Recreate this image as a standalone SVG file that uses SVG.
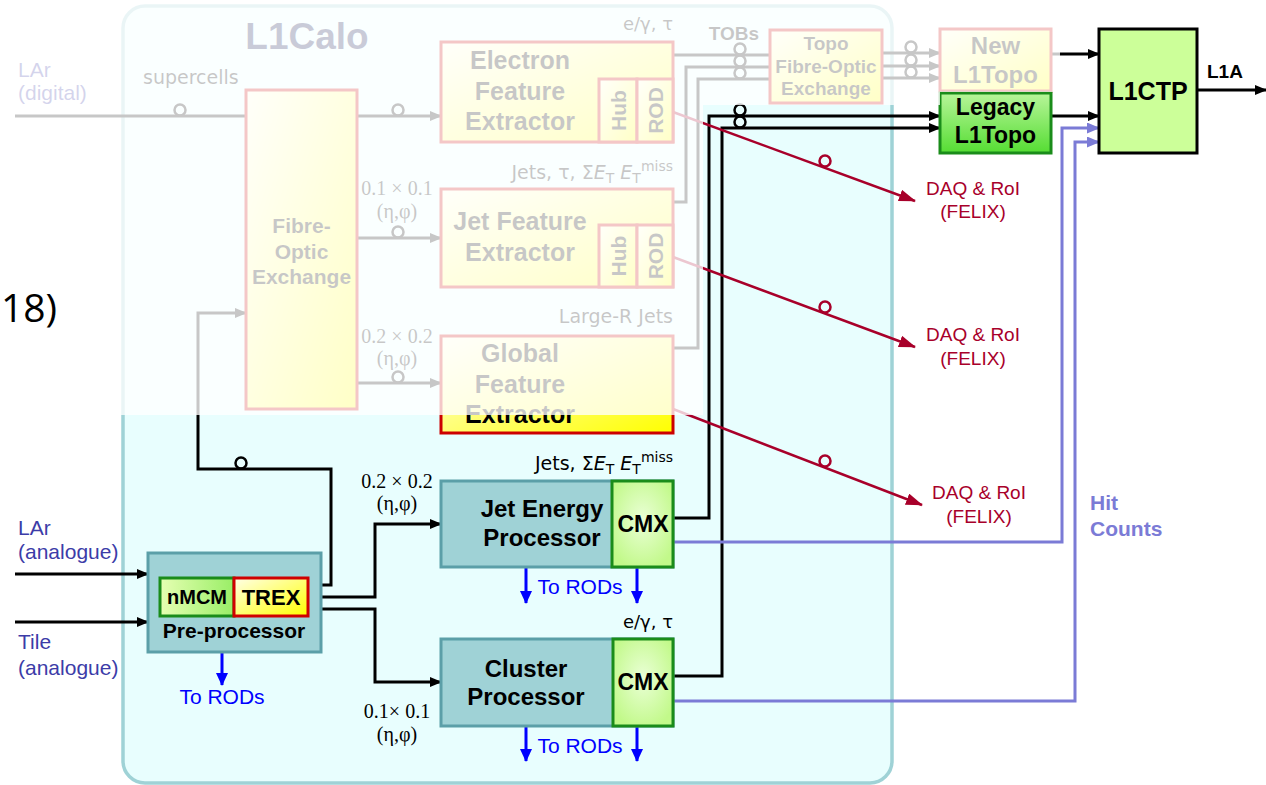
<svg xmlns="http://www.w3.org/2000/svg" width="1266" height="785" viewBox="0 0 1266 785">
<defs>
<style>
.bt{font-family:"Liberation Sans",Arial,sans-serif;font-weight:bold;text-anchor:middle;fill:#000}
.rt{font-family:"Liberation Sans",Arial,sans-serif}
.lbl{font-family:"DejaVu Sans",sans-serif;font-size:19px;fill:#000}
.mth{font-family:"Liberation Serif","Times New Roman",serif;font-size:20px;fill:#000;text-anchor:middle}
.ln{fill:none;stroke:#000;stroke-width:3}
.red{fill:none;stroke:#a8002a;stroke-width:2.5}
.lav{fill:none;stroke:#7b7bd6;stroke-width:3}
.blu{fill:none;stroke:#0000ff;stroke-width:3}
.ck{fill:none;stroke:#000;stroke-width:2.5}
.cr{fill:none;stroke:#a8002a;stroke-width:2.5}
.yel{fill:url(#gYel);stroke:#cc0000;stroke-width:3}
.teal{fill:#9fd2d6;stroke:#5b9fa8;stroke-width:3}
.cmx{fill:url(#gCmx);stroke:#1a8c1a;stroke-width:3}
.daq{font-family:"Liberation Sans",Arial,sans-serif;font-size:19px;fill:#a8002a;text-anchor:middle}
.rod{font-family:"Liberation Sans",Arial,sans-serif;font-size:21px;fill:#0000ff;text-anchor:middle}
.inp{font-family:"Liberation Sans",Arial,sans-serif;font-size:21px;fill:#3c3ca8}
</style>
<linearGradient id="gYel" x1="0" y1="0" x2="1" y2="1"><stop offset="0" stop-color="#ffffe8"/><stop offset="1" stop-color="#ffff00"/></linearGradient>
<radialGradient id="gCmx" cx="0.5" cy="0.45" r="0.6"><stop offset="0" stop-color="#eaffd6"/><stop offset="1" stop-color="#c2f98a"/></radialGradient>
<linearGradient id="gLeg" x1="0" y1="0" x2="0" y2="1"><stop offset="0" stop-color="#b8f59a"/><stop offset="1" stop-color="#55dd33"/></linearGradient>
<linearGradient id="gMcm" x1="0" y1="0" x2="1" y2="0"><stop offset="0" stop-color="#e6ffb3"/><stop offset="1" stop-color="#99ee66"/></linearGradient>
<marker id="ak" markerUnits="userSpaceOnUse" markerWidth="12" markerHeight="10" refX="11" refY="5" orient="auto"><path d="M0,0 L12,5 L0,10 z" fill="#000"/></marker>
<marker id="ar" markerUnits="userSpaceOnUse" markerWidth="17" markerHeight="12" refX="16" refY="6" orient="auto"><path d="M0,0 L17,6 L0,12 z" fill="#a8002a"/></marker>
<marker id="ab" markerUnits="userSpaceOnUse" markerWidth="13" markerHeight="12" refX="12" refY="6" orient="auto"><path d="M0,0 L13,6 L0,12 z" fill="#0000ff"/></marker>
<marker id="al" markerUnits="userSpaceOnUse" markerWidth="13" markerHeight="11" refX="12" refY="5.5" orient="auto"><path d="M0,0 L13,5.5 L0,11 z" fill="#7b7bd6"/></marker>
</defs>
<rect width="1266" height="785" fill="#fff"/>

<g id="L1Calo">
<rect x="123" y="6" width="769" height="777" rx="22" fill="#e8fefe" stroke="#9fd2d6" stroke-width="3.5"/>
<text class="bt" x="307" y="49" font-size="37" style="fill:#0a1450">L1Calo</text>
</g>

<g id="connectors">
<path class="ln" d="M15,116 H246"/><circle class="ck" cx="180" cy="110" r="5.5"/>
<path class="ln" d="M357,116 H441" marker-end="url(#ak)"/><circle class="ck" cx="398" cy="110" r="5.5"/>
<path class="ln" d="M357,238 H441" marker-end="url(#ak)"/><circle class="ck" cx="398" cy="232" r="5.5"/>
<path class="ln" d="M357,383 H441" marker-end="url(#ak)"/><circle class="ck" cx="398" cy="377" r="5.5"/>
<path class="ln" d="M673,55 H770"/>
<path class="ln" d="M673,202 H686 V67 H770"/>
<path class="ln" d="M673,348 H698 V79 H770"/>
<circle class="ck" cx="740" cy="49" r="5.5"/><circle class="ck" cx="740" cy="61" r="5.5"/><circle class="ck" cx="740" cy="73" r="5.5"/>
<path class="ln" d="M882,53 H940" marker-end="url(#ak)"/>
<path class="ln" d="M882,66 H940" marker-end="url(#ak)"/>
<path class="ln" d="M882,78 H940" marker-end="url(#ak)"/>
<circle class="ck" cx="911" cy="47" r="5.5"/><circle class="ck" cx="911" cy="60" r="5.5"/><circle class="ck" cx="911" cy="72" r="5.5"/>
<path class="ln" d="M1051,54 H1099" marker-end="url(#ak)"/>
<path class="ln" d="M1051,116 H1099" marker-end="url(#ak)"/>
<path class="ln" d="M1197,90 H1266" marker-end="url(#ak)"/>
<path class="ln" d="M673,518 H709 V116 H940" marker-end="url(#ak)"/>
<path class="ln" d="M673,676 H722 V128 H940" marker-end="url(#ak)"/>
<circle class="ck" cx="740" cy="110" r="5.5"/><circle class="ck" cx="740" cy="122" r="5.5"/>
<path class="lav" d="M673,542 H1062 V128 H1099" marker-end="url(#al)"/>
<path class="lav" d="M673,701 H1075 V142 H1099" marker-end="url(#al)"/>
<path class="red" d="M673,112 L915,201" marker-end="url(#ar)"/><circle class="cr" cx="825" cy="161" r="5.5"/>
<path class="red" d="M673,257 L915,347" marker-end="url(#ar)"/><circle class="cr" cx="825" cy="307" r="5.5"/>
<path class="red" d="M673,409 L922,505" marker-end="url(#ar)"/><circle class="cr" cx="825" cy="461" r="5.5"/>
<path class="ln" d="M15,574 H148" marker-end="url(#ak)"/>
<path class="ln" d="M15,622 H148" marker-end="url(#ak)"/>
<path class="ln" d="M308,585 H331 V469 H198 V313 H246" marker-end="url(#ak)"/><circle class="ck" cx="241" cy="463" r="5.5"/>
<path class="ln" d="M308,597 H375 V524 H441" marker-end="url(#ak)"/>
<path class="ln" d="M308,609 H375 V682 H441" marker-end="url(#ak)"/>
<path class="blu" d="M222,648 V685" marker-end="url(#ab)"/>
<path class="blu" d="M526,567 V603" marker-end="url(#ab)"/>
<path class="blu" d="M637,567 V603" marker-end="url(#ab)"/>
<path class="blu" d="M526,726 V761" marker-end="url(#ab)"/>
<path class="blu" d="M637,726 V761" marker-end="url(#ab)"/>
</g>

<g id="fibre-optic-exchange">
<rect class="yel" x="246" y="90" width="111" height="319"/>
<text class="bt" x="301.5" y="233" font-size="21">Fibre-</text>
<text class="bt" x="301.5" y="259" font-size="21">Optic</text>
<text class="bt" x="301.5" y="284" font-size="21">Exchange</text>
</g>

<g id="electron-feature-extractor">
<rect class="yel" x="441" y="42" width="232" height="100"/>
<rect class="yel" x="599" y="79" width="38" height="63"/>
<rect class="yel" x="637" y="79" width="36" height="63"/>
<text class="bt" x="520" y="69" font-size="25">Electron</text>
<text class="bt" x="520" y="100" font-size="25">Feature</text>
<text class="bt" x="520" y="130" font-size="25">Extractor</text>
<text class="bt" font-size="21" transform="translate(626,110.5) rotate(-90)">Hub</text>
<text class="bt" font-size="21" transform="translate(662.5,110.5) rotate(-90)">ROD</text>
</g>

<g id="jet-feature-extractor">
<rect class="yel" x="441" y="189" width="232" height="98"/>
<rect class="yel" x="599" y="225" width="38" height="62"/>
<rect class="yel" x="637" y="225" width="36" height="62"/>
<text class="bt" x="520" y="230" font-size="25">Jet Feature</text>
<text class="bt" x="520" y="261" font-size="25">Extractor</text>
<text class="bt" font-size="21" transform="translate(626,256) rotate(-90)">Hub</text>
<text class="bt" font-size="21" transform="translate(662.5,256) rotate(-90)">ROD</text>
</g>

<g id="global-feature-extractor">
<rect class="yel" x="441" y="336" width="232" height="97"/>
<text class="bt" x="520" y="362" font-size="25">Global</text>
<text class="bt" x="520" y="393" font-size="25">Feature</text>
<text class="bt" x="520" y="423" font-size="25">Extractor</text>
</g>

<g id="topo-fibre-optic-exchange">
<rect class="yel" x="770" y="30" width="112" height="73"/>
<text class="bt" x="826" y="50" font-size="19">Topo</text>
<text class="bt" x="826" y="73" font-size="19">Fibre-Optic</text>
<text class="bt" x="826" y="95" font-size="19">Exchange</text>
</g>

<g id="new-l1topo">
<rect class="yel" x="940" y="29" width="111" height="62"/>
<text class="bt" x="995.5" y="54" font-size="24">New</text>
<text class="bt" x="995.5" y="83" font-size="24">L1Topo</text>
</g>

<g id="legacy-l1topo">
<rect x="940" y="93" width="111" height="60" fill="url(#gLeg)" stroke="#1a8c1a" stroke-width="3"/>
<text class="bt" x="995.5" y="115" font-size="23">Legacy</text>
<text class="bt" x="995.5" y="143" font-size="23">L1Topo</text>
</g>

<g id="l1ctp">
<rect x="1099" y="29" width="98" height="124" fill="#ccff99" stroke="#000" stroke-width="3"/>
<text class="bt" x="1148" y="100" font-size="25">L1CTP</text>
</g>

<g id="pre-processor">
<rect class="teal" x="148" y="553" width="173" height="99"/>
<rect x="160" y="578" width="74" height="38" fill="url(#gMcm)" stroke="#1a8c1a" stroke-width="3"/>
<rect x="234" y="578" width="74" height="38" fill="url(#gYel)" stroke="#d00000" stroke-width="3"/>
<text class="bt" x="197" y="604" font-size="20">nMCM</text>
<text class="bt" x="271" y="605" font-size="22">TREX</text>
<text class="bt" x="234" y="638" font-size="21">Pre-processor</text>
</g>

<g id="jet-energy-processor">
<rect class="teal" x="441" y="481" width="232" height="86"/>
<rect class="cmx" x="612" y="481" width="61" height="86"/>
<text class="bt" x="542" y="517" font-size="24">Jet Energy</text>
<text class="bt" x="542" y="546" font-size="24">Processor</text>
<text class="bt" x="643" y="532" font-size="23">CMX</text>
</g>

<g id="cluster-processor">
<rect class="teal" x="441" y="639" width="232" height="87"/>
<rect class="cmx" x="613" y="639" width="60" height="87"/>
<text class="bt" x="526" y="677" font-size="24">Cluster</text>
<text class="bt" x="526" y="705" font-size="24">Processor</text>
<text class="bt" x="643" y="690" font-size="23">CMX</text>
</g>

<g id="labels">
<text class="inp" x="18" y="77">LAr</text>
<text class="inp" x="18" y="100">(digital)</text>
<text class="lbl" x="143" y="84">supercells</text>
<text class="mth" x="397" y="195">0.1 × 0.1</text>
<text class="mth" x="397" y="218">(η,φ)</text>
<text class="mth" x="397" y="343">0.2 × 0.2</text>
<text class="mth" x="397" y="365">(η,φ)</text>
<text class="lbl" x="673" y="30" text-anchor="end" style="font-size:18px">e/γ, τ</text>
<text class="lbl" x="673" y="179" text-anchor="end">Jets, τ, Σ<tspan font-style="italic">E</tspan><tspan font-size="14" dy="4">T</tspan><tspan dy="-4"> </tspan><tspan font-style="italic">E</tspan><tspan font-size="14" dy="4">T</tspan><tspan font-size="14" dy="-12">miss</tspan></text>
<text class="lbl" x="673" y="323" text-anchor="end">Large-R Jets</text>
<text class="bt" x="734" y="40" font-size="19">TOBs</text>
<text class="bt" x="1207" y="78" font-size="19" style="text-anchor:start">L1A</text>
<text class="daq" x="973" y="195">DAQ &amp; RoI</text>
<text class="daq" x="973" y="218">(FELIX)</text>
<text class="daq" x="973" y="341">DAQ &amp; RoI</text>
<text class="daq" x="973" y="365">(FELIX)</text>
<text class="daq" x="979" y="499">DAQ &amp; RoI</text>
<text class="daq" x="979" y="523">(FELIX)</text>
<text class="rt" x="1090" y="510" font-size="21" font-weight="bold" fill="#7b7bd6">Hit</text>
<text class="rt" x="1090" y="536" font-size="21" font-weight="bold" fill="#7b7bd6">Counts</text>
<text class="inp" x="18" y="535">LAr</text>
<text class="inp" x="18" y="559">(analogue)</text>
<text class="inp" x="18" y="649">Tile</text>
<text class="inp" x="18" y="675">(analogue)</text>
<text class="rod" x="222" y="704">To RODs</text>
<text class="mth" x="397" y="488">0.2 × 0.2</text>
<text class="mth" x="397" y="510">(η,φ)</text>
<text class="mth" x="397" y="718">0.1× 0.1</text>
<text class="mth" x="397" y="741">(η,φ)</text>
<text class="lbl" x="673" y="470" text-anchor="end">Jets, Σ<tspan font-style="italic">E</tspan><tspan font-size="14" dy="4">T</tspan><tspan dy="-4"> </tspan><tspan font-style="italic">E</tspan><tspan font-size="14" dy="4">T</tspan><tspan font-size="14" dy="-12">miss</tspan></text>
<text class="rod" x="580" y="594">To RODs</text>
<text class="lbl" x="673" y="628" text-anchor="end" style="font-size:18px">e/γ, τ</text>
<text class="rod" x="580" y="753">To RODs</text>
</g>

<path id="fade-overlay" d="M0,0 H1060 V92 H940 V105 H703 V415 H0 Z" fill="#fff" fill-opacity="0.78"/>
<text x="1" y="322" font-family="'Open Sans',sans-serif" font-size="39" fill="#000">18)</text>
</svg>
